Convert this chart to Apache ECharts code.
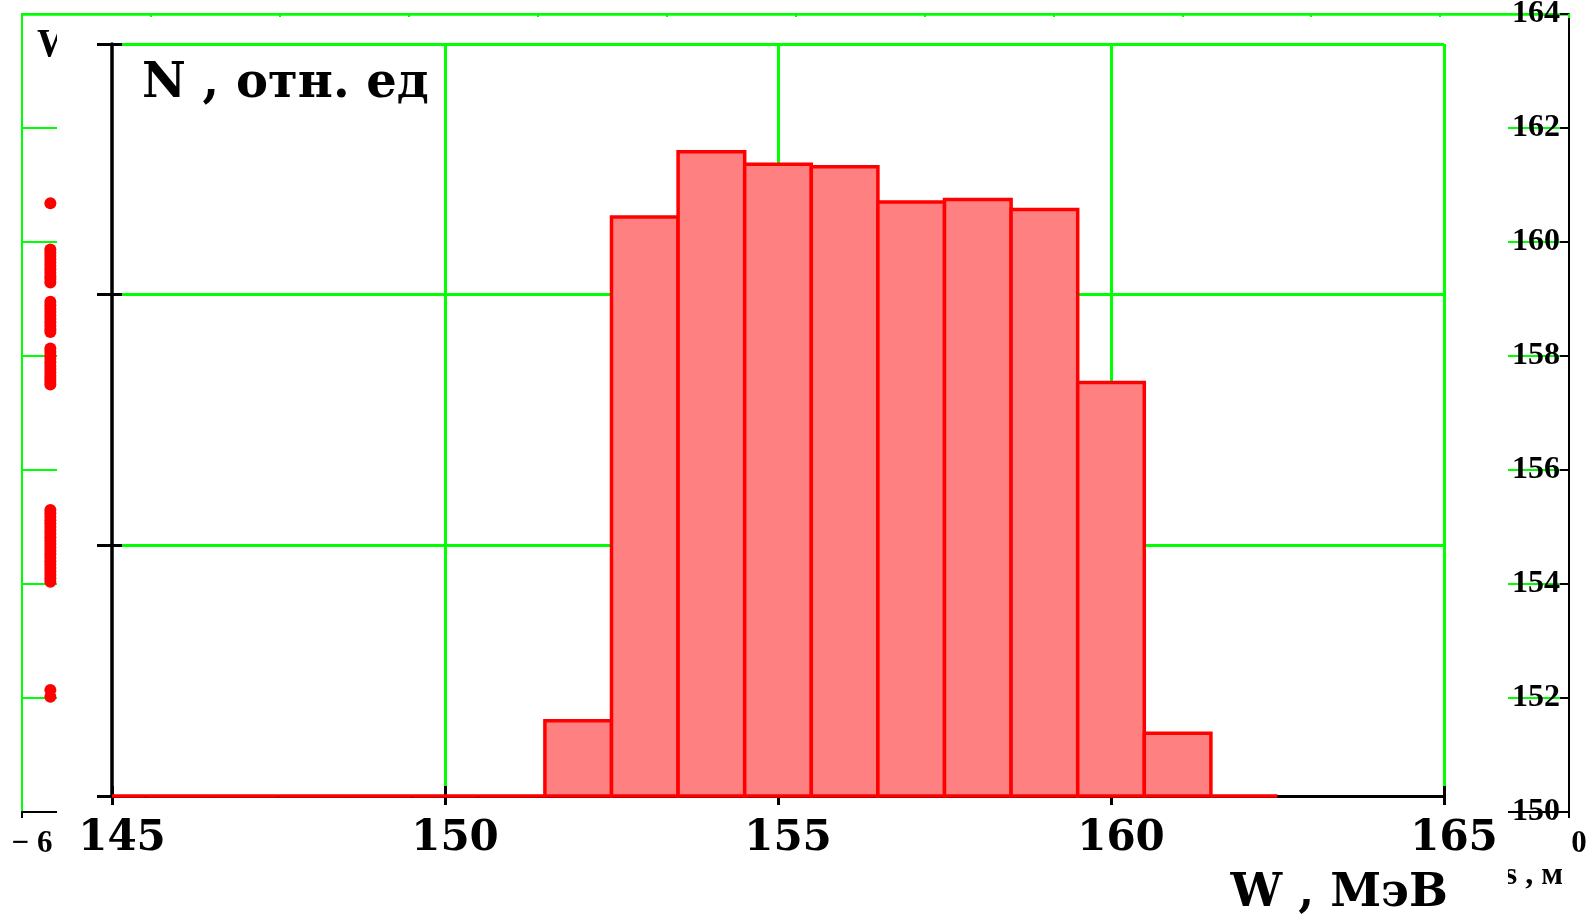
<!DOCTYPE html>
<html><head><meta charset="utf-8">
<script src="https://cdn.jsdelivr.net/npm/echarts@6/dist/echarts.min.js"></script>
<style>html,body{margin:0;padding:0;background:#fff}#c{width:1595px;height:921px}</style>
</head><body><div id="c"></div>
<script>
// Histogram of energies (main plot)
const binCenters = [145,146,147,148,149,150,151,152,153,154,155,156,157,158,159,160,161,162];
const binCounts  = [0,0,0,0,0,0,0,0.30,2.31,2.57,2.52,2.51,2.37,2.38,2.34,1.65,0.25,0];
const binWidth = 1;
const wTicks = [145,150,155,160,165];
const nTicks = [0,1,2,3];
const wTitle = 'W , МэВ';
const nTitle = 'N , отн. ед';

// Background plot: W vs s (partially hidden)
const sTicks = [-6,0];
const sTickStep = 0.5;
const sTitle = 's , м';
const wBgTicks = [150,152,154,156,158,160,162,164];
const dotPositionS = -5.89;
const dotEnergies = [
  160.68,
  159.87,159.81,159.76,159.70,159.64,159.58,159.52,159.46,159.40,159.35,159.29,
  158.95,158.89,158.83,158.77,158.71,158.65,158.59,158.53,158.47,158.42,
  158.13,158.07,158.01,157.95,157.89,157.83,157.77,157.71,157.65,157.60,157.55,157.50,
  155.30,155.24,155.18,155.12,155.06,155.00,154.94,154.88,154.82,154.76,154.70,
  154.64,154.58,154.52,154.46,154.40,154.34,154.28,154.22,154.16,154.10,154.04,
  152.14,152.02
];

const GREEN = '#00ff00';
const BIGF = 'DejaVu Serif';
const SMF = 'Liberation Serif';

const chart = echarts.init(document.getElementById('c'), null, {renderer:'canvas'});
const wMin = wTicks[0], wMax = wTicks[wTicks.length-1];

chart.setOption({
  animation:false,
  backgroundColor:'#ffffff',
  grid:[
    {left:22, right:26, top:14, bottom:109, containLabel:false, outerBoundsMode:'none'},
    {left:112, right:151, top:44, bottom:125, containLabel:false, outerBoundsMode:'none'}
  ],
  graphic:[
    {
      type:'text', z:2, silent:true, x:1563, y:876,
      style:{text:sTitle, font:'bold 32px "Liberation Serif"', fill:'#000',
        align:'right', verticalAlign:'middle', textAlign:'right', textVerticalAlign:'middle'}
    },
    {
      type:'rect', z:3, silent:true,
      shape:{x:57, y:17, width:1451, height:910},
      style:{fill:'#ffffff'}
    },
    {
      type:'text', z:8, silent:true, x:1448, y:894,
      style:{text:wTitle, font:'bold 46px "DejaVu Serif"', fill:'#000',
        align:'right', verticalAlign:'middle', textAlign:'right', textVerticalAlign:'middle'}
    }
  ],
  xAxis:[
    { // background bottom s axis
      gridIndex:0, type:'value', position:'bottom', z:0,
      min:sTicks[0], max:sTicks[sTicks.length-1], interval:sTickStep,
      axisLine:{show:true, onZero:false, lineStyle:{color:'#000', width:2}},
      axisTick:{show:true, length:6, lineStyle:{color:'#000', width:2}},
      axisLabel:{show:true, margin:16, padding:[0,0,0,20], hideOverlap:false,
        color:'#000', fontFamily:SMF, fontWeight:'bold', fontSize:31,
        formatter:v => sTicks.indexOf(v) < 0 ? '' : (v < 0 ? '\u2212 ' + Math.abs(v) : String(v))},
      splitLine:{show:false}
    },
    { // background top border
      gridIndex:0, type:'value', position:'top', z:0,
      min:sTicks[0], max:sTicks[sTicks.length-1], interval:sTickStep,
      axisLine:{show:true, onZero:false, lineStyle:{color:GREEN, width:2.5}},
      axisTick:{show:true, inside:true, length:4, lineStyle:{color:GREEN, width:2}},
      axisLabel:{show:false}, splitLine:{show:false}
    },
    { // main W axis
      gridIndex:1, type:'value', position:'bottom', z:5,
      min:wMin, max:wMax, interval:wTicks[1]-wTicks[0],
      axisLine:{show:true, onZero:false, lineStyle:{color:'#000', width:3}},
      axisTick:{show:true, length:9, lineStyle:{color:'#000', width:3}},
      axisLabel:{show:true, margin:22, padding:[0,0,0,20], hideOverlap:false,
        color:'#000', fontFamily:BIGF, fontWeight:'bold', fontSize:42},
      splitLine:{show:true, showMinLine:false, lineStyle:{color:GREEN, width:3}}
    },
    { // main W axis inner ticks
      gridIndex:1, type:'value', position:'bottom', z:6,
      min:wMin, max:wMax, interval:wTicks[1]-wTicks[0],
      axisLine:{show:false, onZero:false},
      axisTick:{show:true, inside:true, length:10, lineStyle:{color:'#000', width:3}},
      axisLabel:{show:false}, splitLine:{show:false}
    }
  ],
  yAxis:[
    { // background right W axis
      gridIndex:0, type:'value', position:'right', z:0,
      min:wBgTicks[0], max:wBgTicks[wBgTicks.length-1], interval:wBgTicks[1]-wBgTicks[0],
      axisLine:{show:true, onZero:false, lineStyle:{color:'#000', width:2}},
      axisTick:{show:true, inside:true, length:9, lineStyle:{color:'#000', width:2}},
      axisLabel:{show:true, inside:true, margin:9, padding:[6,0,0,0], hideOverlap:false,
        color:'#000', fontFamily:SMF, fontWeight:'bold', fontSize:32},
      splitLine:{show:true, lineStyle:{color:GREEN, width:2}}
    },
    { // background left border
      gridIndex:0, type:'value', position:'left', z:0,
      min:wBgTicks[0], max:wBgTicks[wBgTicks.length-1], interval:wBgTicks[1]-wBgTicks[0],
      axisLine:{show:true, onZero:false, lineStyle:{color:GREEN, width:2}},
      axisTick:{show:false}, axisLabel:{show:false}, splitLine:{show:false},
      name:wTitle, nameLocation:'end', nameGap:-32,
      nameTextStyle:{align:'left', verticalAlign:'middle', padding:[0,0,0,15],
        color:'#000', fontFamily:SMF, fontWeight:'bold', fontSize:39}
    },
    { // main N axis
      gridIndex:1, type:'value', position:'left', z:5,
      min:nTicks[0], max:nTicks[nTicks.length-1], interval:nTicks[1]-nTicks[0],
      axisLine:{show:true, onZero:false, lineStyle:{color:'#000', width:3.5}},
      axisTick:{show:true, length:15, lineStyle:{color:'#000', width:3}},
      axisLabel:{show:false},
      splitLine:{show:true, showMinLine:false, lineStyle:{color:GREEN, width:3}},
      name:nTitle, nameLocation:'end', nameGap:-41,
      nameTextStyle:{align:'left', verticalAlign:'middle', padding:[0,0,0,30],
        color:'#000', fontFamily:BIGF, fontWeight:'bold', fontSize:48}
    },
    { // main N axis inner ticks
      gridIndex:1, type:'value', position:'left', z:6,
      min:nTicks[0], max:nTicks[nTicks.length-1], interval:nTicks[1]-nTicks[0],
      axisLine:{show:false, onZero:false},
      axisTick:{show:true, inside:true, length:10, lineStyle:{color:'#000', width:3}},
      axisLabel:{show:false}, splitLine:{show:false}
    }
  ],
  series:[
    {
      type:'scatter', xAxisIndex:0, yAxisIndex:0, z:1,
      symbol:'circle', symbolSize:12,
      itemStyle:{color:'#ff0000', opacity:1},
      data: dotEnergies.map(w => [dotPositionS, w])
    },
    {
      type:'custom', xAxisIndex:2, yAxisIndex:2, z:7,
      renderItem:function(params, api){
        const c = api.value(0), v = api.value(1);
        const x0 = Math.max(c - binWidth/2, wMin), x1 = Math.min(c + binWidth/2, wMax);
        const p0 = api.coord([x0, v]);
        const p1 = api.coord([x1, 0]);
        return {type:'rect',
          shape:{x:p0[0], y:p0[1], width:p1[0]-p0[0], height:p1[1]-p0[1]},
          style:{fill:'#ff8080', stroke:'#ff0000', lineWidth:3.5}};
      },
      data: binCenters.map((c,i) => [c, binCounts[i]])
    }
  ]
});
</script></body></html>
